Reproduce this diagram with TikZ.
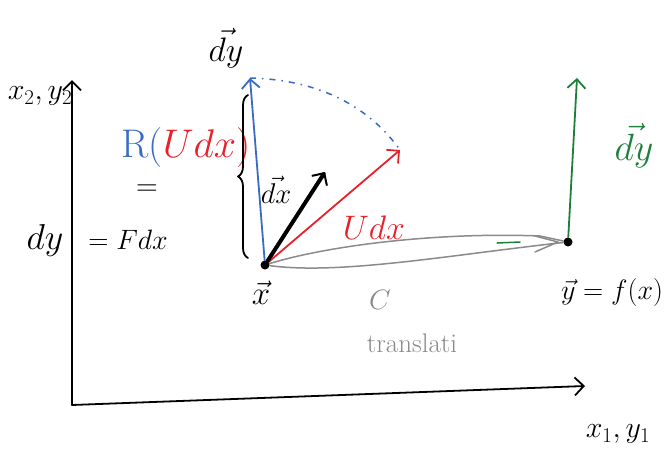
\RequirePackage{fix-cm}
\documentclass[tikz,border=0pt]{standalone}
\usepackage{graphicx}
\usetikzlibrary{arrows.meta,decorations.pathreplacing}
\definecolor{pblue}{HTML}{3A6BC4}
\definecolor{pred}{HTML}{E8202A}
\definecolor{pgreen}{HTML}{1E7F3A}
\definecolor{pgray}{HTML}{8A8A8A}
\begin{document}
\begin{tikzpicture}[x=1pt,y=-1pt,
  pen/.style={line width=1.8pt,line cap=round,line join=round},
  vtip/.style={-{Straight Barb[length=9pt,width=18pt,line width=1.8pt]}},
  lbl/.style={inner sep=0pt,font=\fontsize{22}{24}\selectfont},
  dot/.style={circle,fill=black,inner sep=0pt,minimum size=9pt}]
\useasboundingbox (0,0) rectangle (666,463);
% axes
\coordinate (O) at (72,405);
\coordinate (ytip) at (72,80);
\coordinate (xtip) at (585,386);
\draw[pen,vtip] (O) -- (ytip);
\draw[pen,vtip] (O) -- (xtip);
\node[lbl,font=\fontsize{30}{32}\selectfont] (xy2) at (40,96) {$x_2, y_2$};
\node[lbl,font=\fontsize{30}{32}\selectfont] (xy1) at (618,434) {$x_1, y_1$};
\node[lbl,font=\fontsize{36}{38}\selectfont] (dyl) at (45,240) {$dy$};
\node[lbl,font=\fontsize{28}{30}\selectfont] (fdx) at (128,240) {$=Fdx$};
% R(Udx) =
\node[lbl,font=\fontsize{40}{42}\selectfont] (rudx) at (186,148) {\textcolor{pblue}{R(}\textcolor{pred}{$Udx$)}};
\node[lbl,font=\fontsize{30}{32}\selectfont] (eq) at (147,190) {$=$};
% points
\node[dot] (x) at (265,265) {};
\node[dot] (y) at (568,242) {};
\node[lbl] (xlab) at (261,293) {\scalebox{1.5}{$\vec{x}$}};
\node[lbl,font=\fontsize{28}{30}\selectfont] (ylab) at (612,292) {$\vec{y}=f(x)$};
% gray translation band
\draw[pgray,pen,line width=1.5pt] (x) .. controls (330,245) and (440,232) .. (540,236) -- (y);
\draw[pgray,pen,line width=1.5pt] (x) .. controls (340,275) and (450,255) .. (y);
\draw[pgray,pen,line width=1.5pt] (535,236) -- (558,242) -- (535,252);
\draw[pgreen,pen,line width=1.5pt] (497,243) -- (520,242);
\node[lbl,text=pgray,font=\fontsize{28}{30}\selectfont] (C) at (380,300) {$C$};
\node[lbl,text=pgray,font=\fontsize{27}{29}\selectfont] (tr) at (412,343) {translati};
% blue arrow and arc
\coordinate (btip) at (250,78);
\coordinate (rtip) at (400,150);
\draw[pen,pblue,vtip] (x) -- (btip);
\draw[pblue,line width=1.5pt,dash pattern=on 6pt off 6pt on 1.5pt off 6pt] (btip) .. controls (330,80) and (375,115) .. (rtip);
\node[lbl,font=\fontsize{34}{36}\selectfont] (dyv) at (226,48) {$\vec{dy}$};
% red arrow
\draw[pen,pred,vtip] (x) -- (rtip);
\node[lbl,text=pred,font=\fontsize{34}{36}\selectfont] (udx) at (374,228) {$Udx$};
% black dx arrow
\coordinate (dtip) at (325,172);
\draw[pen,line width=4pt,-{Straight Barb[length=9pt,width=18pt,line width=2pt]}] (x) -- (dtip);
\node[lbl] (dxv) at (276,190) {\scalebox{1.3}{$\vec{dx}$}};
% brace
\draw[pen,decorate,decoration={brace,amplitude=10pt}] (248,258) -- (248,95);
% green arrow
\coordinate (gtip) at (577,78);
\draw[pen,pgreen,vtip] (y) -- (gtip);
\node[lbl,text=pgreen,font=\fontsize{38}{40}\selectfont] (dyg) at (634,146) {$\vec{dy}$};
\end{tikzpicture}
\end{document}
